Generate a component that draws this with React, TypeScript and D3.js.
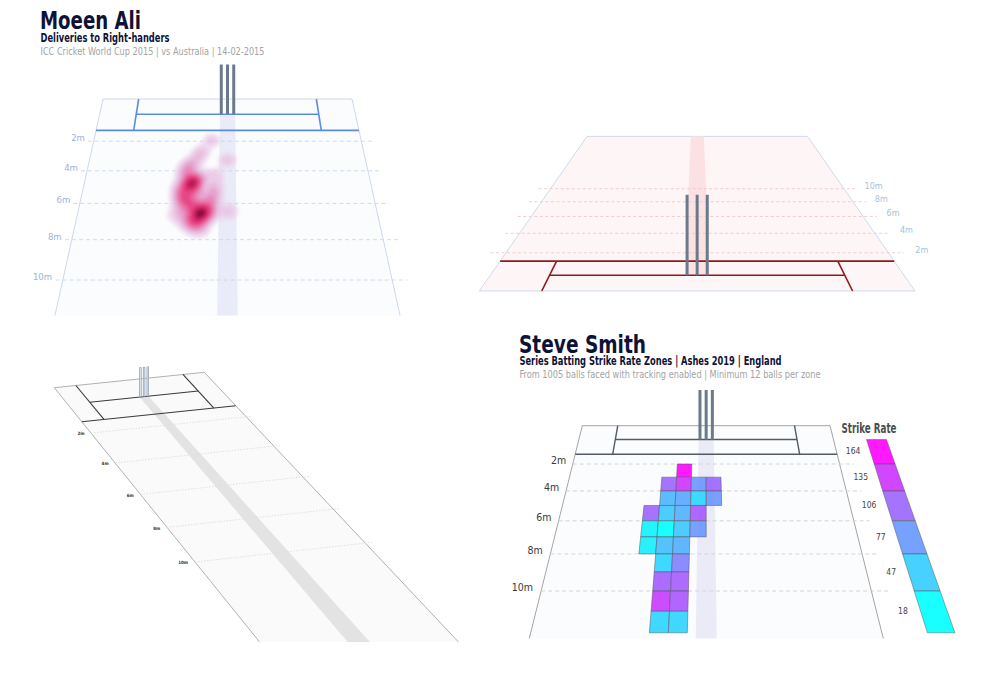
import React from "react";
import * as d3 from "d3";

const W = 995;
const H = 674;
const FONT = '"Liberation Sans Narrow", "DejaVu Sans Condensed", "Arial Narrow", sans-serif';

// pitch in metres: x across (from middle stump), d down the pitch (from the stumps)
const PITCH_HALF = 1.85;
const RETURN_X = 1.32;
const POPPING_D = 1.22;
const BACK_D = -1.22;
const FAR_D = 21.34;
const ANCHOR_D = 10;
const STUMP_X = [-0.09, 0, 0.09];
const STUMP_H = 0.72;
const STRIPE_HALF = 0.11;

const distanceMarks = [2, 4, 6, 8, 10];

// Moeen Ali - where each delivery to right-handers pitched
const moeenLine = [
  -0.44, -0.46, -0.42, -0.47, -0.4, -0.45, -0.5,
  -0.33, -0.35, -0.31, -0.36, -0.3, -0.34, -0.38, -0.32,
  -0.55, -0.58, -0.52, -0.6, -0.56,
  -0.2, -0.22, -0.18, -0.24,
  -0.4, -0.42, -0.45,
  -0.57, -0.52,
  -0.35, -0.48, -0.41,
  -0.17, -0.17,
  -0.22, 0.0, 0.01,
  -0.41, -0.5, -0.33,
  -0.5, -0.38, -0.48, -0.26, -0.45, -0.55, -0.6, -0.36, -0.62, -0.21, -0.52, -0.4,
];
const moeenLength = [
  4.7, 4.62, 4.8, 4.88, 4.55, 4.95, 4.7,
  6.5, 6.62, 6.42, 6.8, 6.7, 6.3, 6.55, 6.9,
  5.5, 5.2, 5.9, 4.95, 5.7,
  5.7, 6.0, 5.4, 6.2,
  5.9, 6.1, 5.4,
  4.1, 4.3,
  2.7, 3.8, 3.2,
  4.3, 5.0,
  1.95, 3.3, 6.45,
  7.25, 7.0, 7.4,
  5.0, 5.3, 6.3, 6.5, 6.85, 6.1, 5.6, 4.4, 6.6, 6.6, 3.6, 7.1,
];

// Steve Smith strike rate zones: 1m of length x 0.2m of line
const zoneLength = [2, 3, 3, 3, 3, 4, 4, 4, 4, 5, 5, 5, 5, 6, 6, 6, 6, 7, 7, 7, 8, 8, 9, 9, 10, 10, 11, 11];
const zoneLine = [
  -0.4,
  -0.6, -0.4, -0.2, 0,
  -0.6, -0.4, -0.2, 0,
  -0.8, -0.6, -0.4, -0.2,
  -0.8, -0.6, -0.4, -0.2,
  -0.8, -0.6, -0.4,
  -0.6, -0.4,
  -0.6, -0.4,
  -0.6, -0.4,
  -0.6, -0.4,
];
const zoneStrikeRate = [
  164,
  107, 135, 78, 106,
  60, 69, 41, 78,
  107, 50, 63, 114,
  25, 18, 50, 78,
  28, 56, 64,
  42, 90,
  111, 112,
  132, 116,
  42, 43,
];
const legendValues = [164, 135, 106, 77, 47, 18];

function solve(A: number[][], b: number[]) {
  const n = b.length;
  const M = A.map((r, i) => [...r, b[i]]);
  for (let c = 0; c < n; c++) {
    let piv = c;
    for (let r = c + 1; r < n; r++) if (Math.abs(M[r][c]) > Math.abs(M[piv][c])) piv = r;
    [M[c], M[piv]] = [M[piv], M[c]];
    for (let r = 0; r < n; r++) {
      if (r === c) continue;
      const f = M[r][c] / M[c][c];
      for (let k = c; k <= n; k++) M[r][k] -= f * M[c][k];
    }
  }
  return M.map((r, i) => r[n] / r[i]);
}

// perspective view of the pitch plane, fixed by where the pitch corners land
function makeView(anchors: number[][]) {
  const src = [
    [-PITCH_HALF, BACK_D],
    [PITCH_HALF, BACK_D],
    [-PITCH_HALF, ANCHOR_D],
    [PITCH_HALF, ANCHOR_D],
  ];
  const A: number[][] = [];
  const b: number[] = [];
  src.forEach(([X, Y], i) => {
    const [x, y] = anchors[i];
    A.push([X, Y, 1, 0, 0, 0, -X * x, -Y * x]);
    b.push(x);
    A.push([0, 0, 0, X, Y, 1, -X * y, -Y * y]);
    b.push(y);
  });
  const h = solve(A, b);
  const proj = (X: number, Y: number) => {
    const w = h[6] * X + h[7] * Y + 1;
    return [(h[0] * X + h[1] * Y + h[2]) / w, (h[3] * X + h[4] * Y + h[5]) / w];
  };
  const scale = (X: number, Y: number) => {
    const a = proj(X - 0.5, Y);
    const c = proj(X + 0.5, Y);
    return Math.hypot(c[0] - a[0], c[1] - a[1]);
  };
  return { proj, scale };
}

const panels = [
  {
    id: "moeen", anchors: [[103, 99], [352, 99], [62.8, 280], [392.2, 280]], clipY: 315.5,
    fill: "#fbfcfe", edge: "#c6d4ec", crease: "#5a8de0", creaseW: 1.6,
    dist: "#c9d6ee", dash: "4 3", lineFrom: -1.93, lineTo: 2.02,
    labelX: -1.97, labelAnchor: "end", labelColor: "#9db3d9", labelSize: 9.5, labelDy: "0", labelWeight: 400,
    stripe: "#e9ebf8", stripeFar: STRIPE_HALF, stump: "#6a7a8b", outlined: false,
  },
  {
    id: "rear", anchors: [[479.3, 291], [915, 291], [550.6, 188.7], [843.9, 188.7]], clipY: H,
    fill: "#fdf5f6", edge: "#cad6ea", crease: "#8e1a1e", creaseW: 1.6,
    dist: "#f1c8cd", dash: "3 2.5", lineFrom: -2.0, lineTo: 2.0,
    labelX: 2.11, labelAnchor: "start", labelColor: "#aabfdc", labelSize: 9, labelDy: "0", labelWeight: 400,
    stripe: "#fbe1e2", stripeFar: STRIPE_HALF, stump: "#6a7a8b", outlined: false,
  },
  {
    id: "oblique", anchors: [[54.3, 387.7], [204.3, 372.3], [195, 562], [365.3, 543.1]], clipY: 642,
    fill: "#fafafa", edge: "#a8a8a8", crease: "#3a3a3a", creaseW: 1.1,
    dist: "#dcdcdc", dash: "1.5 1.5", lineFrom: -1.85, lineTo: 2.0,
    labelX: -2.0, labelAnchor: "end", labelColor: "#333", labelSize: 4.5, labelDy: "0.35em", labelWeight: 700,
    stripe: "#e3e3e3", stripeFar: 0.25, stump: "#8d9db0", outlined: true,
  },
  {
    id: "smith", anchors: [[582.3, 425.7], [830, 425.7], [541.1, 591], [871.4, 591]], clipY: 638.5,
    fill: "#fbfcfd", edge: "#9a9a9a", crease: "#555b63", creaseW: 1.4,
    dist: "#d0d0d0", dash: "4 3", lineFrom: -1.85, lineTo: 2.05,
    labelX: -1.94, labelAnchor: "end", labelColor: "#3a3a3a", labelSize: 10.5, labelDy: "0", labelWeight: 400,
    stripe: "#ebebf8", stripeFar: STRIPE_HALF, stump: "#6a7a8b", outlined: false,
  },
].map((p) => ({ ...p, ...makeView(p.anchors) }));

const fmt = (p: number[]) => p[0].toFixed(2) + "," + p[1].toFixed(2);

function Pitch({ cfg, layer }: any) {
  const P = cfg.proj;
  const quad = (pts: number[][]) => "M" + pts.map(([x, d]) => fmt(P(x, d))).join("L") + "Z";
  const seg = (a: number[], b: number[], props: any, key: string) => {
    const p = P(a[0], a[1]);
    const q = P(b[0], b[1]);
    return <line key={key} x1={p[0]} y1={p[1]} x2={q[0]} y2={q[1]} {...props} />;
  };
  const creaseStyle = { stroke: cfg.crease, strokeWidth: cfg.creaseW };
  return (
    <g>
      <clipPath id={`clip-${cfg.id}`}>
        <rect x={0} y={0} width={W} height={cfg.clipY} />
      </clipPath>
      <g clipPath={`url(#clip-${cfg.id})`}>
        <path
          d={quad([[-PITCH_HALF, BACK_D], [PITCH_HALF, BACK_D], [PITCH_HALF, FAR_D], [-PITCH_HALF, FAR_D]])}
          fill={cfg.fill}
          stroke={cfg.edge}
          strokeWidth={0.9}
        />
        <path
          d={quad([[-STRIPE_HALF, 0], [STRIPE_HALF, 0], [cfg.stripeFar, FAR_D], [-cfg.stripeFar, FAR_D]])}
          fill={cfg.stripe}
        />
        {distanceMarks.map((m) =>
          seg([cfg.lineFrom, m], [cfg.lineTo, m], { stroke: cfg.dist, strokeWidth: 0.9, strokeDasharray: cfg.dash }, "l" + m)
        )}
        {distanceMarks.map((m) => {
          const p = P(cfg.labelX, m);
          return (
            <text key={"t" + m} x={p[0]} y={p[1]} dy={cfg.labelDy} textAnchor={cfg.labelAnchor}
              fontSize={cfg.labelSize} fill={cfg.labelColor} fontFamily={FONT} fontWeight={cfg.labelWeight}>
              {m}m
            </text>
          );
        })}
        {layer ? layer(P) : null}
        {seg([-PITCH_HALF, POPPING_D], [PITCH_HALF, POPPING_D], creaseStyle, "pop")}
        {seg([-RETURN_X, 0], [RETURN_X, 0], creaseStyle, "bowl")}
        {seg([-RETURN_X, BACK_D], [-RETURN_X, POPPING_D], creaseStyle, "retL")}
        {seg([RETURN_X, BACK_D], [RETURN_X, POPPING_D], creaseStyle, "retR")}
      </g>
      {STUMP_X.map((sx) => {
        const base = P(sx, 0);
        const top = base[1] - STUMP_H * cfg.scale(sx, 0);
        return (
          <g key={sx}>
            <line x1={base[0]} y1={base[1]} x2={base[0]} y2={top} stroke={cfg.stump}
              strokeWidth={cfg.outlined ? 2.4 : 3} />
            {cfg.outlined && (
              <line x1={base[0]} y1={base[1] - 0.5} x2={base[0]} y2={top + 0.5} stroke="#e6ebf0" strokeWidth={0.9} />
            )}
          </g>
        );
      })}
    </g>
  );
}

// world coords <-> density grid (narrow kernel across, longer along the pitch)
const GX = 160;
const GY = 40;

function moeenHeat(P: any) {
  const balls = moeenLine.map((x, i) => [x, moeenLength[i]]);
  const density: any = d3
    .contourDensity<number[]>()
    .x((b) => (b[0] + 1.5) * GX)
    .y((b) => (b[1] + 1) * GY)
    .size([480, 560])
    .cellSize(2)
    .bandwidth(11);
  const contours = density.contours(balls);
  const levels = [0.025, 0.05, 0.09, 0.14, 0.2, 0.28, 0.38, 0.5, 0.63, 0.77, 0.9];
  const color = d3.interpolateRgbBasis(["#eddcf0", "#dfa2d2", "#ec5e95", "#e8387a", "#dc2468", "#a8104a", "#640626"]);
  const toPath = (geom: any) =>
    geom.coordinates
      .map((poly: any) =>
        poly
          .map((ring: any) => "M" + ring.map(([u, v]: number[]) => fmt(P(u / GX - 1.5, v / GY - 1))).join("L") + "Z")
          .join("")
      )
      .join("");
  return (
    <g filter="url(#soft)">
      {levels.map((f) => (
        <path key={f} d={toPath(contours(f * contours.max))} fill={color(f)} fillOpacity={0.45 + 0.5 * f} />
      ))}
    </g>
  );
}

const srColor = d3
  .scaleLinear<string>()
  .domain([18, 164])
  .range(["#00ffff", "#ff00ff"])
  .interpolate(d3.interpolateRgb)
  .clamp(true);

function smithZones(P: any) {
  return (
    <g>
      {zoneStrikeRate.map((sr, i) => {
        const x0 = zoneLine[i];
        const d0 = zoneLength[i];
        const pts = [[x0, d0], [x0 + 0.2, d0], [x0 + 0.2, d0 + 1], [x0, d0 + 1]];
        return (
          <path key={i} d={"M" + pts.map(([x, d]) => fmt(P(x, d))).join("L") + "Z"}
            fill={srColor(sr)} fillOpacity={0.9} stroke="#5a5a66" strokeOpacity={0.75} strokeWidth={0.7} />
        );
      })}
    </g>
  );
}

function SmithLegend({ cfg }: any) {
  const P = cfg.proj;
  return (
    <g>
      {legendValues.map((v, i) => {
        const d0 = i * 2;
        const pts = [[2.33, d0], [2.62, d0], [2.62, d0 + 2], [2.33, d0 + 2]];
        const lp = P(2.19, d0 + 1);
        return (
          <g key={v}>
            <path d={"M" + pts.map(([x, d]) => fmt(P(x, d))).join("L") + "Z"} fill={srColor(v)} fillOpacity={0.9}
              stroke="#555" strokeOpacity={0.8} strokeWidth={0.6} />
            <text x={lp[0]} y={lp[1]} dy="0.35em" textAnchor="end" fontSize={8.5} fill="#444" fontFamily={FONT}>
              {v}
            </text>
          </g>
        );
      })}
      <text x={841.5} y={432.5} fontSize={13.5} fontWeight={700} fill="#4d4d4d" fontFamily={FONT}
        textLength={55} lengthAdjust="spacingAndGlyphs">
        Strike Rate
      </text>
    </g>
  );
}

export default function App() {
  const [moeen, rear, oblique, smith] = panels;
  const navy = "#0e1236";
  return (
    <svg width={W} height={H} style={{ position: "absolute", left: 0, top: 0, background: "#fff" }} fontFamily={FONT}>
      <defs>
        <filter id="soft" x="-20%" y="-20%" width="140%" height="140%">
          <feGaussianBlur stdDeviation="1.5" />
        </filter>
      </defs>
      <rect width={W} height={H} fill="#fff" />

      <text x={40} y={29} fontSize={24} fontWeight={700} fill={navy} textLength={101} lengthAdjust="spacingAndGlyphs">
        Moeen Ali
      </text>
      <text x={40.5} y={42} fontSize={11.5} fontWeight={700} fill={navy} textLength={129} lengthAdjust="spacingAndGlyphs">
        Deliveries to Right-handers
      </text>
      <text x={40.5} y={54.5} fontSize={10.5} fill="#a3a3a3" textLength={224} lengthAdjust="spacingAndGlyphs">
        ICC Cricket World Cup 2015 | vs Australia | 14-02-2015
      </text>

      <Pitch cfg={moeen} layer={moeenHeat} />
      <Pitch cfg={rear} />
      <Pitch cfg={oblique} />
      <Pitch cfg={smith} layer={smithZones} />
      <SmithLegend cfg={smith} />

      <text x={519} y={352.5} fontSize={25} fontWeight={700} fill={navy} textLength={127} lengthAdjust="spacingAndGlyphs">
        Steve Smith
      </text>
      <text x={519.5} y={365} fontSize={11.5} fontWeight={700} fill={navy} textLength={262} lengthAdjust="spacingAndGlyphs">
        Series Batting Strike Rate Zones | Ashes 2019 | England
      </text>
      <text x={519.5} y={378} fontSize={10.5} fill="#a3a3a3" textLength={301} lengthAdjust="spacingAndGlyphs">
        From 1005 balls faced with tracking enabled | Minimum 12 balls per zone
      </text>
    </svg>
  );
}
